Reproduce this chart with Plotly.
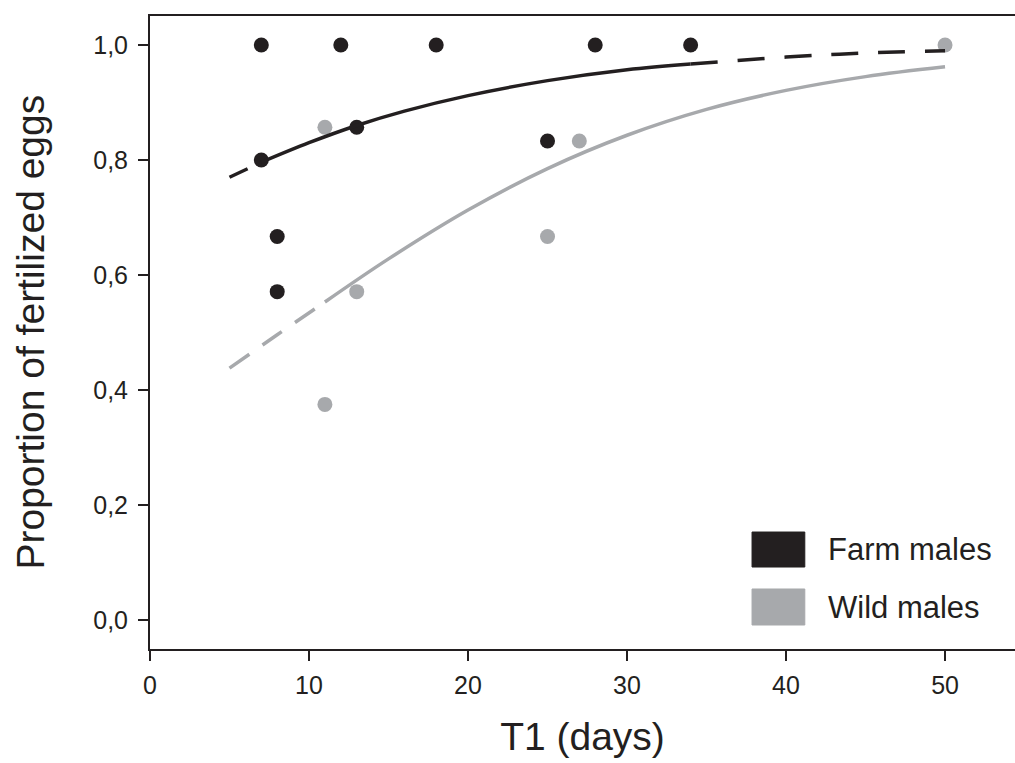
import plotly.graph_objects as go

# ---- data ----
farm_x = [7, 12, 18, 28, 34, 7, 13, 8, 8, 25]
farm_y = [1.0, 1.0, 1.0, 1.0, 1.0, 0.80, 0.857, 0.667, 0.571, 0.833]

wild_x = [11, 13, 11, 25, 27, 50]
wild_y = [0.857, 0.571, 0.375, 0.667, 0.833, 1.0]

# fitted curves
farm_fit_x = [5, 7, 10, 13, 16, 20, 25, 30, 34, 40, 45, 50]
farm_fit_y = [0.770, 0.796, 0.830, 0.860, 0.885, 0.912, 0.938, 0.957, 0.967, 0.979, 0.986, 0.990]
farm_solid_from, farm_solid_to = 1, 8   # indices: dashed before / after

wild_fit_x = [5, 8, 11, 15, 20, 25, 30, 35, 40, 45, 50]
wild_fit_y = [0.438, 0.496, 0.553, 0.628, 0.713, 0.785, 0.843, 0.888, 0.921, 0.945, 0.962]
wild_solid_from = 2

x_ticks = [0, 10, 20, 30, 40, 50]
y_ticks = [0.0, 0.2, 0.4, 0.6, 0.8, 1.0]
legend_labels = ["Farm males", "Wild males"]

BLACK = "#231f20"
GREY = "#a7a9ac"
FONT = "Liberation Sans, Arial, Helvetica, sans-serif"

fig = go.Figure()

# points
fig.add_trace(go.Scatter(x=farm_x, y=farm_y, mode="markers",
                         marker=dict(color=BLACK, size=15), showlegend=False))
fig.add_trace(go.Scatter(x=wild_x, y=wild_y, mode="markers",
                         marker=dict(color=GREY, size=15), showlegend=False))

def seg(xs, ys, a, b, color, dash):
    fig.add_trace(go.Scatter(x=xs[a:b + 1], y=ys[a:b + 1], mode="lines",
                             line=dict(color=color, width=3.5, dash=dash, shape="spline"),
                             showlegend=False, hoverinfo="skip"))

n_f = len(farm_fit_x) - 1
seg(farm_fit_x, farm_fit_y, 0, farm_solid_from, BLACK, "20px,14px")
seg(farm_fit_x, farm_fit_y, farm_solid_from, farm_solid_to, BLACK, "solid")
seg(farm_fit_x, farm_fit_y, farm_solid_to, n_f, BLACK, "27px,20px")

n_w = len(wild_fit_x) - 1
seg(wild_fit_x, wild_fit_y, 0, wild_solid_from, GREY, "24px,16px")
seg(wild_fit_x, wild_fit_y, wild_solid_from, n_w, GREY, "solid")

# legend drawn manually (large square swatches)
sw_colors = [BLACK, GREY]
sw_y = [(0.1295, 0.1848), (0.0379, 0.0948)]
for lab, col, (y0, y1) in zip(legend_labels, sw_colors, sw_y):
    fig.add_shape(type="rect", xref="paper", yref="paper",
                  x0=0.696, x1=0.757, y0=y0, y1=y1,
                  fillcolor=col, line=dict(color=col, width=1), layer="above")
    fig.add_annotation(xref="paper", yref="paper", x=0.781, y=(y0 + y1) / 2,
                       text=lab, showarrow=False, xanchor="left", yanchor="middle",
                       font=dict(family=FONT, size=31, color=BLACK))

# y-axis title placed as rotated text
fig.add_annotation(xref="paper", yref="paper", x=-0.1387, y=0.5,
                   text="Proportion of fertilized eggs", textangle=-90,
                   showarrow=False, xanchor="center", yanchor="middle",
                   font=dict(family=FONT, size=39, color=BLACK))

fig.update_layout(
    width=1015, height=763,
    margin=dict(l=150, r=0, t=16, b=114),
    paper_bgcolor="white", plot_bgcolor="white",
    separators=", ",
    font=dict(family=FONT, color=BLACK),
    showlegend=False,
)
fig.update_xaxes(
    range=[0, 54.4], tickvals=x_ticks, showgrid=False, zeroline=False,
    showline=True, linecolor=BLACK, linewidth=2, mirror=True,
    ticks="outside", ticklen=10, tickwidth=2, tickcolor=BLACK,
    tickfont=dict(size=25, family=FONT, color=BLACK), ticklabelstandoff=3,
    title=dict(text="T1 (days)", font=dict(size=39, family=FONT, color=BLACK), standoff=25),
)
fig.update_yaxes(
    range=[-0.0504, 1.0504], tickvals=y_ticks, tickformat=".1f",
    showgrid=False, zeroline=False,
    showline=True, linecolor=BLACK, linewidth=2, mirror=False,
    ticks="outside", ticklen=10, tickwidth=2, tickcolor=BLACK,
    tickfont=dict(size=25, family=FONT, color=BLACK), ticklabelstandoff=5,
)

fig.write_html(
    "out.html",
    config={"displayModeBar": False},
    post_script="document.body.style.margin='0';document.body.style.overflow='hidden';",
)
